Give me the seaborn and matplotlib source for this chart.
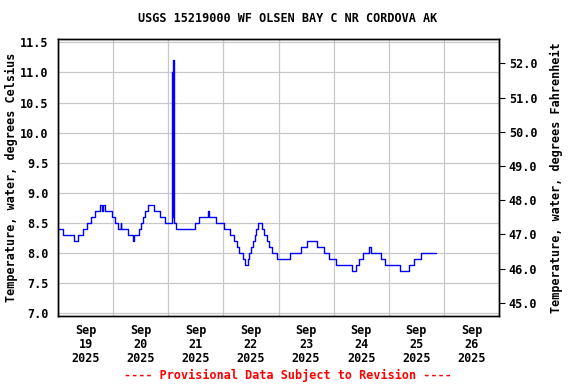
import pandas as pd
import numpy as np
import matplotlib
matplotlib.use('Agg')
import matplotlib.pyplot as plt
import matplotlib.dates as mdates
import seaborn as sns

# 水温データ（変化点: 9/19 00:00 からの経過時間, 値 °C）
change_hours = [0.0, 2.3, 7.1, 8.6, 11.1, 12.5, 14.4, 15.9, 18.3, 19.0, 19.5, 20.6,
                23.7, 25.0, 26.2, 27.3, 27.6, 30.4, 32.5, 33.3, 35.1, 36.0, 36.8, 38.0,
                39.4, 42.0, 44.5, 46.4, 49.6, 49.9, 50.2, 50.45, 51.2, 59.5, 61.2, 65.3, 65.6,
                68.8, 72.1, 74.9, 76.5, 78.0, 79.0, 80.7, 81.5, 82.8, 83.3, 84.2, 84.8,
                85.7, 86.4, 87.1, 88.6, 89.6, 91.0, 91.8, 93.0, 95.4, 100.9, 106.0, 108.5,
                112.9, 115.8, 117.9, 120.9, 128.1, 129.6, 131.2, 133.0, 135.4, 136.1,
                140.7, 142.4, 149.0, 152.9, 155.2, 157.9, 164.6]
temp_c = [8.4, 8.3, 8.2, 8.3, 8.4, 8.5, 8.6, 8.7, 8.8, 8.7, 8.8, 8.7,
          8.6, 8.5, 8.4, 8.5, 8.4, 8.3, 8.2, 8.3, 8.4, 8.5, 8.6, 8.7,
          8.8, 8.7, 8.6, 8.5, 11.0, 8.6, 11.2, 8.5, 8.4, 8.5, 8.6, 8.7, 8.6,
          8.5, 8.4, 8.3, 8.2, 8.1, 8.0, 7.9, 7.8, 7.9, 8.0, 8.1, 8.2,
          8.3, 8.4, 8.5, 8.4, 8.3, 8.2, 8.1, 8.0, 7.9, 8.0, 8.1, 8.2,
          8.1, 8.0, 7.9, 7.8, 7.7, 7.8, 7.9, 8.0, 8.1, 8.0,
          7.9, 7.8, 7.7, 7.8, 7.9, 8.0, 8.0]

title = 'USGS 15219000 WF OLSEN BAY C NR CORDOVA AK'
ylabel_c = 'Temperature, water, degrees Celsius'
ylabel_f = 'Temperature, water, degrees Fahrenheit'
footer = '---- Provisional Data Subject to Revision ----'
start = pd.Timestamp('2025-09-19')
end = pd.Timestamp('2025-09-27')
c_ticks = [7.0, 7.5, 8.0, 8.5, 9.0, 9.5, 10.0, 10.5, 11.0, 11.5]
f_ticks = [45.0, 46.0, 47.0, 48.0, 49.0, 50.0, 51.0, 52.0]

df = pd.DataFrame({'time': start + pd.to_timedelta(change_hours, unit='h'), 'temp': temp_c})

sns.set_style('white')
plt.rcParams['font.family'] = ['DejaVu Sans Mono']
plt.rcParams['font.weight'] = 'bold'
for k in ['text.color', 'axes.labelcolor', 'xtick.color', 'ytick.color']:
    plt.rcParams[k] = 'black'
fs = 8.5

fig = plt.figure(figsize=(5.76, 3.84), dpi=100)
ax = fig.add_axes([58 / 576, 1 - 316 / 384, (499 - 58) / 576, (316 - 39.3) / 384])

sns.lineplot(data=df, x='time', y='temp', ax=ax, color='#0000ff', lw=1.0,
             drawstyle='steps-post', estimator=None, sort=False)

ax.set_xlim(start, end)
ax.set_ylim(6.955, 11.55)
ax.set_yticks(c_ticks)
ax.set_yticklabels([f'{v:.1f}' for v in c_ticks], fontsize=fs, fontweight='bold')
ax.tick_params(axis='y', length=0, pad=7)

ax.xaxis.set_major_locator(mdates.DayLocator())
ax.xaxis.set_major_formatter(plt.NullFormatter())
ax.xaxis.set_minor_locator(mdates.HourLocator(byhour=12))
ax.xaxis.set_minor_formatter(mdates.DateFormatter('%b\n%d\n%Y'))
ax.tick_params(axis='x', which='both', length=0, pad=6)
for lab in ax.get_xticklabels(minor=True):
    lab.set_fontsize(fs)
    lab.set_fontweight('bold')
    lab.set_linespacing(1.1)

ax.grid(True, which='major', color='#c8c8c8', lw=0.9)
ax.set_xlabel('')
ax.set_ylabel(ylabel_c, fontsize=fs, fontweight='bold')
ax.yaxis.set_label_coords((18 - 58) / 441, 0.5)
for s in ax.spines.values():
    s.set_color('black')
    s.set_linewidth(1.0)

ax2 = ax.twinx()
ax2.set_ylim(44.62, 52.70)
ax2.set_yticks(f_ticks)
ax2.set_yticklabels([f'{v:.1f}' for v in f_ticks], fontsize=fs, fontweight='bold')
ax2.tick_params(axis='y', length=4, width=0.8, pad=3, direction='out')
ax2.set_ylabel(ylabel_f, fontsize=fs, fontweight='bold')
ax2.yaxis.set_label_coords((550 - 58) / 441, 0.5)
for s in ax2.spines.values():
    s.set_color('black')
    s.set_linewidth(1.0)

fig.text(0.5, 1 - 19 / 384, title, ha='center', va='center', fontsize=fs, fontweight='bold')
fig.text(0.5, 1 - 375 / 384, footer, ha='center', va='center', fontsize=fs,
         fontweight='bold', color='red')

plt.savefig('out.png', dpi=100)
